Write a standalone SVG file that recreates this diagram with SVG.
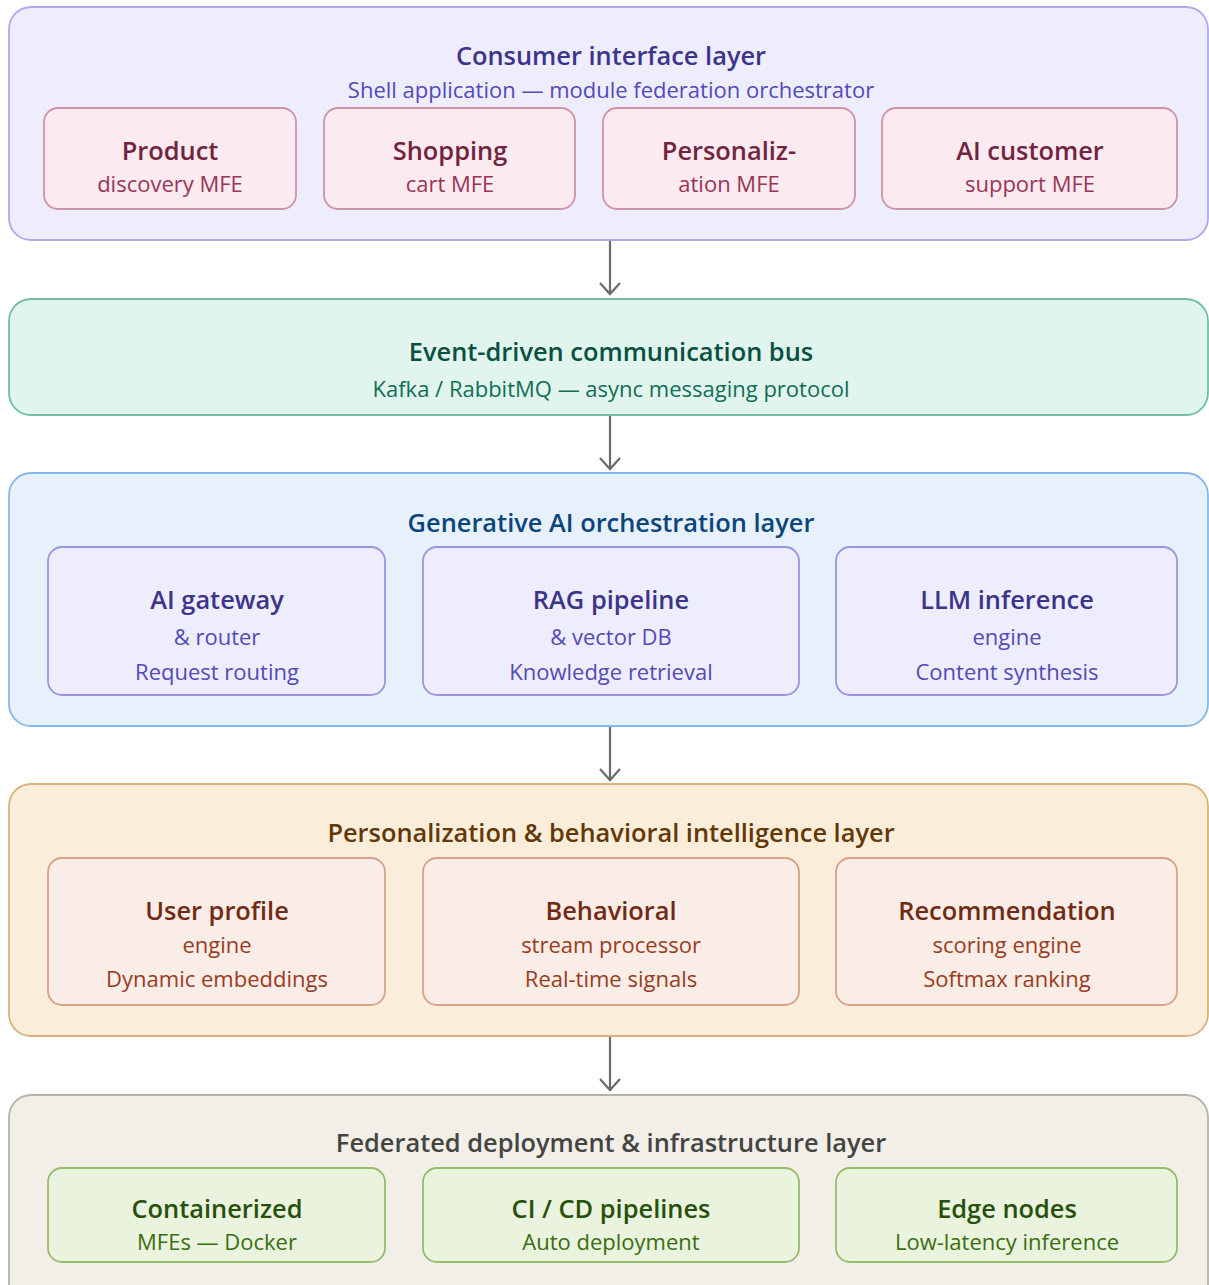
<svg xmlns="http://www.w3.org/2000/svg" width="1209" height="1285" viewBox="0 0 1209 1285">
<defs>
<style>
text{font-family:"Open Sans","Noto Sans","Liberation Sans",sans-serif;text-anchor:middle}
.t{font-size:25.4px;font-weight:600}
.s{font-size:22px}
.bt{font-size:25.4px;font-weight:600}
.bs{font-size:22px}
.c{fill:none;stroke:#6b6b6b;stroke-width:2.2}
.purple{fill:#EEEDFE;stroke:#AFA9EC;stroke-width:1.8}
.green{fill:#E1F5EE;stroke:#6FBFA0;stroke-width:1.8}
.blue{fill:#E6F1FB;stroke:#85B7EB;stroke-width:1.8}
.amber{fill:#FAEEDA;stroke:#D9B27A;stroke-width:1.8}
.gray{fill:#F1EFE8;stroke:#B4B2A9;stroke-width:1.8}
.pink{fill:#FBEAF0;stroke:#CF93A8;stroke-width:1.8}
.vio{fill:#EEEDFE;stroke:#9C94E0;stroke-width:1.8}
.coral{fill:#FAECE7;stroke:#D9A08A;stroke-width:1.8}
.lime{fill:#EAF3DE;stroke:#97BC6E;stroke-width:1.8}
</style>
</defs>
<rect width="1209" height="1285" fill="#ffffff"/>

<g id="connectors">
<line class="c" x1="610" y1="241" x2="610" y2="294"/>
<path class="c" d="M600 283 L610 294 L620 283"/>
<line class="c" x1="610" y1="416" x2="610" y2="469"/>
<path class="c" d="M600 458 L610 469 L620 458"/>
<line class="c" x1="610" y1="727" x2="610" y2="780"/>
<path class="c" d="M600 769 L610 780 L620 769"/>
<line class="c" x1="610" y1="1037" x2="610" y2="1090"/>
<path class="c" d="M600 1079 L610 1090 L620 1079"/>
</g>

<g id="consumer-layer">
<rect class="purple" x="9" y="7" width="1199" height="233" rx="22"/>
<text class="t" x="611" y="65" fill="#3C3489">Consumer interface layer</text>
<text class="s" x="611" y="98" fill="#534AB7">Shell application — module federation orchestrator</text>
</g>
<g id="product-mfe">
<rect class="pink" x="44" y="108" width="252" height="101" rx="14"/>
<text class="bt" x="170" y="160" fill="#72243E">Product</text>
<text class="bs" x="170" y="192" fill="#993556">discovery MFE</text>
</g>
<g id="shopping-mfe">
<rect class="pink" x="324" y="108" width="251" height="101" rx="14"/>
<text class="bt" x="450" y="160" fill="#72243E">Shopping</text>
<text class="bs" x="450" y="192" fill="#993556">cart MFE</text>
</g>
<g id="personalization-mfe">
<rect class="pink" x="603" y="108" width="252" height="101" rx="14"/>
<text class="bt" x="729" y="160" fill="#72243E">Personaliz-</text>
<text class="bs" x="729" y="192" fill="#993556">ation MFE</text>
</g>
<g id="ai-support-mfe">
<rect class="pink" x="882" y="108" width="295" height="101" rx="14"/>
<text class="bt" x="1030" y="160" fill="#72243E">AI customer</text>
<text class="bs" x="1030" y="192" fill="#993556">support MFE</text>
</g>

<g id="event-bus">
<rect class="green" x="9" y="299" width="1199" height="116" rx="22"/>
<text class="t" x="611" y="361" fill="#085041">Event-driven communication bus</text>
<text class="s" x="611" y="397" fill="#0F6E56">Kafka / RabbitMQ — async messaging protocol</text>
</g>

<g id="genai-layer">
<rect class="blue" x="9" y="473" width="1199" height="253" rx="22"/>
<text class="t" x="611" y="532" fill="#0C447C">Generative AI orchestration layer</text>
</g>
<g id="ai-gateway">
<rect class="vio" x="48" y="547" width="337" height="148" rx="14"/>
<text class="bt" x="217" y="609" fill="#3C3489">AI gateway</text>
<text class="bs" x="217" y="645" fill="#534AB7">&amp; router</text>
<text class="bs" x="217" y="680" fill="#534AB7">Request routing</text>
</g>
<g id="rag-pipeline">
<rect class="vio" x="423" y="547" width="376" height="148" rx="14"/>
<text class="bt" x="611" y="609" fill="#3C3489">RAG pipeline</text>
<text class="bs" x="611" y="645" fill="#534AB7">&amp; vector DB</text>
<text class="bs" x="611" y="680" fill="#534AB7">Knowledge retrieval</text>
</g>
<g id="llm-inference">
<rect class="vio" x="836" y="547" width="341" height="148" rx="14"/>
<text class="bt" x="1007" y="609" fill="#3C3489">LLM inference</text>
<text class="bs" x="1007" y="645" fill="#534AB7">engine</text>
<text class="bs" x="1007" y="680" fill="#534AB7">Content synthesis</text>
</g>

<g id="personalization-layer">
<rect class="amber" x="9" y="784" width="1199" height="252" rx="22"/>
<text class="t" x="611" y="842" fill="#633806">Personalization &amp; behavioral intelligence layer</text>
</g>
<g id="user-profile">
<rect class="coral" x="48" y="858" width="337" height="147" rx="14"/>
<text class="bt" x="217" y="920" fill="#712B13">User profile</text>
<text class="bs" x="217" y="953" fill="#993C1D">engine</text>
<text class="bs" x="217" y="987" fill="#993C1D">Dynamic embeddings</text>
</g>
<g id="behavioral">
<rect class="coral" x="423" y="858" width="376" height="147" rx="14"/>
<text class="bt" x="611" y="920" fill="#712B13">Behavioral</text>
<text class="bs" x="611" y="953" fill="#993C1D">stream processor</text>
<text class="bs" x="611" y="987" fill="#993C1D">Real-time signals</text>
</g>
<g id="recommendation">
<rect class="coral" x="836" y="858" width="341" height="147" rx="14"/>
<text class="bt" x="1007" y="920" fill="#712B13">Recommendation</text>
<text class="bs" x="1007" y="953" fill="#993C1D">scoring engine</text>
<text class="bs" x="1007" y="987" fill="#993C1D">Softmax ranking</text>
</g>

<g id="infrastructure-layer">
<rect class="gray" x="9" y="1095" width="1199" height="220" rx="22"/>
<text class="t" x="611" y="1152" fill="#444441">Federated deployment &amp; infrastructure layer</text>
</g>
<g id="containerized">
<rect class="lime" x="48" y="1168" width="337" height="94" rx="14"/>
<text class="bt" x="217" y="1218" fill="#27500A">Containerized</text>
<text class="bs" x="217" y="1250" fill="#3B6D11">MFEs — Docker</text>
</g>
<g id="cicd">
<rect class="lime" x="423" y="1168" width="376" height="94" rx="14"/>
<text class="bt" x="611" y="1218" fill="#27500A">CI / CD pipelines</text>
<text class="bs" x="611" y="1250" fill="#3B6D11">Auto deployment</text>
</g>
<g id="edge-nodes">
<rect class="lime" x="836" y="1168" width="341" height="94" rx="14"/>
<text class="bt" x="1007" y="1218" fill="#27500A">Edge nodes</text>
<text class="bs" x="1007" y="1250" fill="#3B6D11">Low-latency inference</text>
</g>
</svg>
